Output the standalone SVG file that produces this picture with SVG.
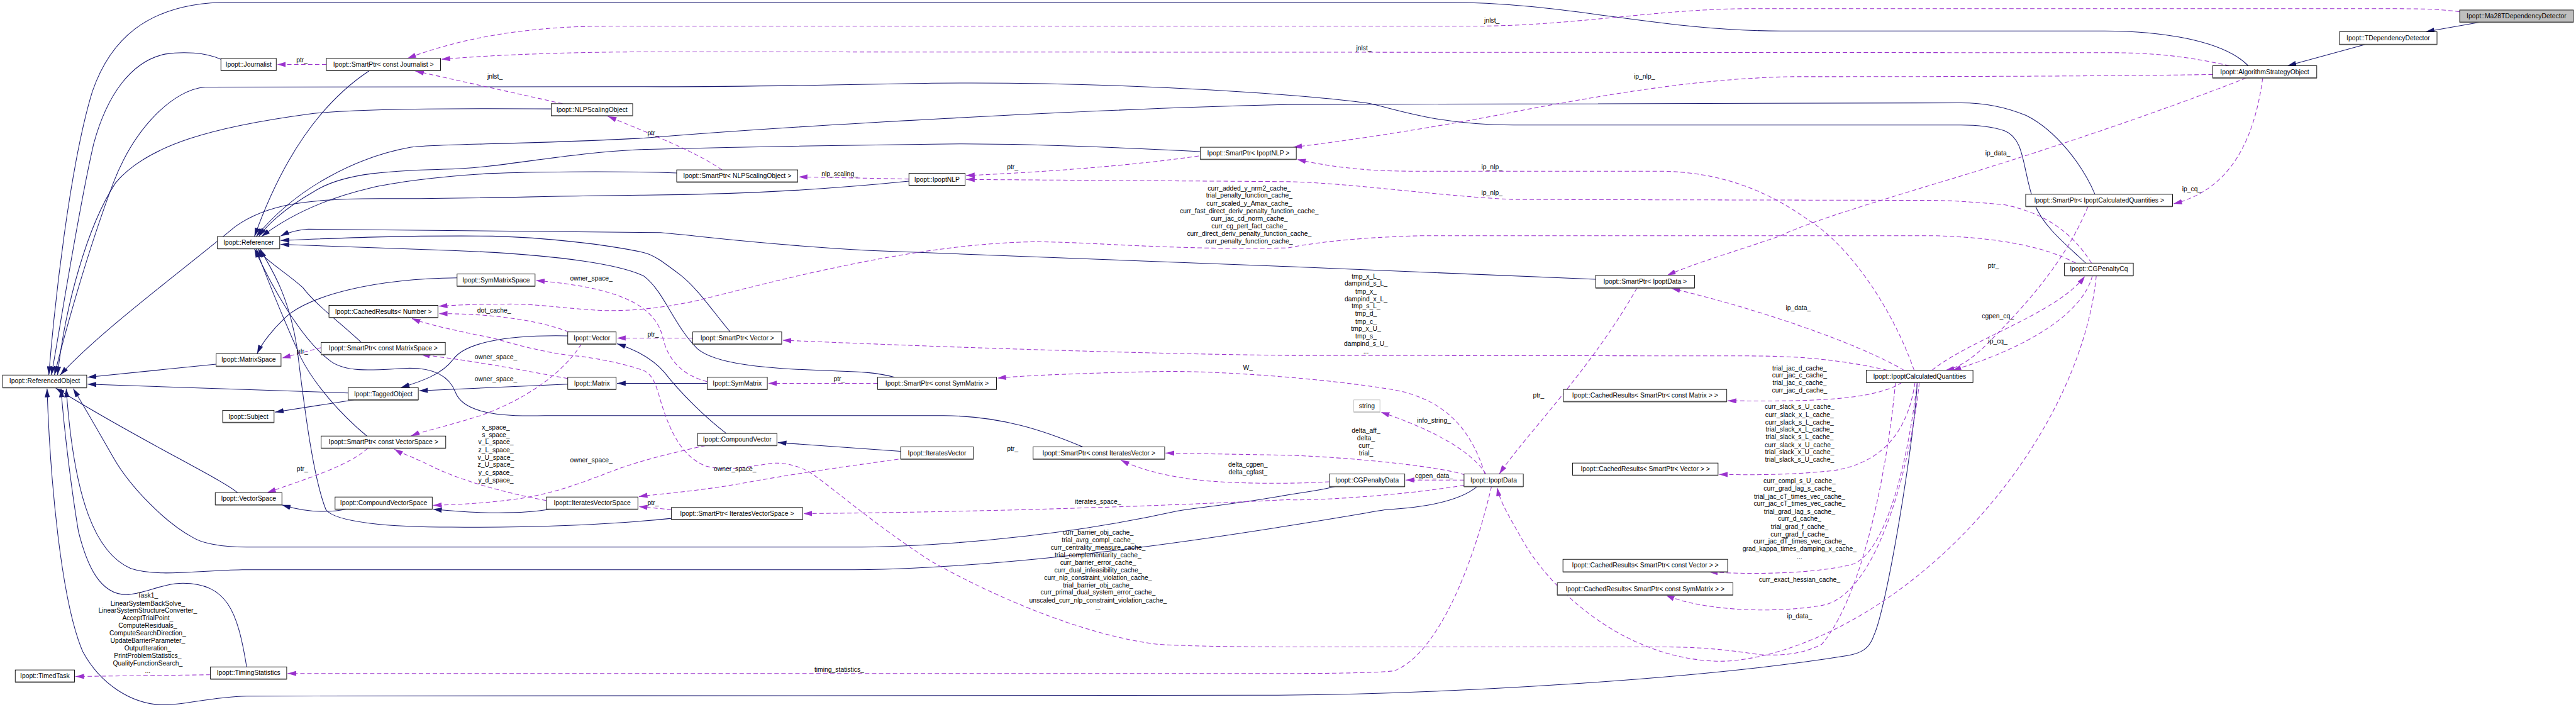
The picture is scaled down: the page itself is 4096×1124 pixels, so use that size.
<svg xmlns="http://www.w3.org/2000/svg" width="4096" height="1124" viewBox="0 0 4096 1124">
<style>
text{font-family:"Liberation Sans",Arial,sans-serif;font-size:15px;fill:#000}
.node rect{fill:#fff;stroke:#000;stroke-width:1.3}
.node line{stroke:#555;stroke-width:2.6}
.node text{text-anchor:middle}
.lbl{text-anchor:middle}
.inh{fill:none;stroke:#191970;stroke-width:1.5;marker-end:url(#ai)}
.use{fill:none;stroke:#9a32cd;stroke-width:1.5;stroke-dasharray:10,6;marker-end:url(#au)}
</style>
<defs>
<marker id="ai" markerUnits="userSpaceOnUse" markerWidth="20" markerHeight="12" viewBox="0 0 20 12" refX="20" refY="6" orient="auto"><path d="M0,0 L20,6 L0,12 z" fill="#191970"/></marker>
<marker id="au" markerUnits="userSpaceOnUse" markerWidth="20" markerHeight="12" viewBox="0 0 20 12" refX="20" refY="6" orient="auto"><path d="M0,0 L20,6 L0,12 z" fill="#9a32cd"/></marker>
</defs>
<rect x="0" y="0" width="4096" height="1124" fill="#fff"/>
<g transform="scale(0.69283,0.69254)">
<g id="edges">
<path class="inh" d="M5692,51 L5567,73"/>
<path class="inh" d="M5428,102 L5250,151"/>
<path class="inh" d="M5160,151 C5100,90 4950,71 4830,71 L4087,71 C3800,71 3600,5 3314,5 L528,5 C330,5 250,100 212,210 C160,380 125,700 112,861"/>
<path class="inh" d="M507,136 C470,120 420,118 380,124 C300,140 245,220 215,330 C180,480 140,740 118,861"/>
<path class="inh" d="M4787,604 C4740,560 4690,520 4670,470 C4640,390 4650,320 4600,300 C4560,287 4520,287 4500,287 L3474,287 C3300,287 3200,250 3145,238 C3050,222 2600,186 2138,191 C1900,195 1700,200 1478,199 L471,200 C400,205 310,290 260,420 C200,580 150,760 125,861"/>
<path class="inh" d="M1265,250 C1000,248 800,250 707,262 C500,290 340,330 265,420 C200,520 150,700 132,861"/>
<path class="inh" d="M2086,416 C1850,440 1650,447 1478,448 C1250,450 1100,456 900,456 C700,454 610,470 540,520 C420,620 230,760 138,861"/>
<path class="inh" d="M496,836 L201,866"/>
<path class="inh" d="M799,902 L201,882"/>
<path class="inh" d="M812,918 L631,946"/>
<path class="inh" d="M545,1131 C510,1100 300,1000 128,891"/>
<path class="inh" d="M4400,878 C4395,1000 4330,1400 4300,1460 C4290,1490 4270,1500 4240,1505 C3900,1560 3300,1596 2873,1596 L566,1598 C480,1600 420,1620 370,1618 C300,1615 230,1570 190,1496 C140,1380 115,1100 108,892"/>
<path class="inh" d="M566,1531 C545,1400 520,1340 420,1339 C370,1339 330,1365 290,1365 C230,1365 200,1300 180,1220 C160,1100 145,960 140,892"/>
<path class="inh" d="M3390,1117 C3350,1150 3270,1165 3180,1170 C3000,1200 2400,1308 1930,1308 L556,1308 C450,1310 360,1325 300,1305 C220,1270 170,1150 152,892"/>
<path class="inh" d="M3064,1117 C3020,1128 2990,1130 2956,1136 C2850,1155 2750,1165 2703,1173 C2400,1240 2100,1256 1949,1256 L566,1256 C500,1256 460,1245 443,1234 C380,1200 300,1120 260,1050 C220,980 185,920 168,892"/>
<path class="inh" d="M1049,638 C850,640 720,680 665,720 C625,755 600,790 590,812"/>
<path class="inh" d="M1303,771 C1150,768 1065,790 1040,825 C1010,865 950,880 920,890"/>
<path class="inh" d="M1303,882 L962,897"/>
<path class="inh" d="M1623,880 L1416,880"/>
<path class="inh" d="M1667,995 C1620,960 1560,900 1525,855 C1495,820 1450,800 1416,789"/>
<path class="inh" d="M2067,1036 L1785,1016"/>
<path class="inh" d="M795,1169 C740,1180 690,1172 647,1159"/>
<path class="inh" d="M1263,1169 C1200,1180 1100,1180 994,1169"/>
<path class="inh" d="M842,1001 C780,950 720,880 690,820 C645,720 605,620 588,571"/>
<path class="inh" d="M829,786 C780,740 725,700 695,660 C650,620 610,600 592,571"/>
<path class="inh" d="M2485,1026 C2400,990 2300,955 2166,954 L1250,954 C1120,958 1060,940 1045,900 C1030,860 990,845 940,845 C870,848 800,858 760,830 C690,780 620,650 584,571"/>
<path class="inh" d="M1541,1190 C1400,1205 1200,1212 1037,1210 C900,1210 770,1200 748,1170 C720,1100 700,950 682,800 C660,660 610,600 597,571"/>
<path class="inh" d="M1676,762 C1640,720 1600,660 1560,630 C1520,600 1500,585 1478,580 C1400,562 1250,545 1130,542 C900,540 750,548 644,552"/>
<path class="inh" d="M2053,866 C2000,852 1950,853 1900,851 C1750,846 1640,835 1600,800 C1545,745 1525,670 1478,634 C1430,610 1300,585 1037,575 L644,561"/>
<path class="inh" d="M3662,641 L2956,612 C2500,592 2100,580 1996,575 C1750,562 1600,541 1516,534 L707,526 C680,528 660,534 644,542"/>
<path class="inh" d="M4808,446 C4780,380 4720,300 4650,265 C4590,240 4540,236 4500,236 L2956,240 C2500,250 1800,290 1478,317 C1200,332 1000,330 943,338 C820,360 680,430 588,543"/>
<path class="inh" d="M2755,348 C2500,335 2300,328 2138,331 C1800,335 1600,340 1478,343 C1300,350 1150,385 1037,388 C900,392 790,395 720,440 C650,480 610,520 594,543"/>
<path class="inh" d="M1553,397 C1400,392 1200,395 1131,398 C1000,405 900,420 848,432 C730,460 650,505 600,543"/>
<path class="inh" d="M848,162 C760,220 660,330 584,543"/>

<path class="use" d="M5645,27 C5600,21 5560,20 5500,20 L4000,20 C3800,22 3600,60 3380,60 L1400,60 C1200,60 1050,90 935,134"/>
<path class="use" d="M5117,151 C5000,125 4920,121 4839,121 L1478,119 C1300,120 1150,125 1013,136"/>
<path class="use" d="M1291,238 L953,163"/>
<path class="use" d="M749,148 L636,148"/>
<path class="use" d="M1657,390 C1600,350 1500,310 1395,267"/>
<path class="use" d="M2086,411 L1833,406"/>
<path class="use" d="M2751,358 C2600,380 2400,395 2217,403"/>
<path class="use" d="M5078,171 C4900,174 4600,176 4115,176 C3900,180 3700,215 3500,252 C3300,292 3100,322 2968,338"/>
<path class="use" d="M4393,850 C4340,700 4240,560 4150,505 C4060,440 3950,393 3804,393 L3239,393 C3120,393 3040,380 2977,366"/>
<path class="use" d="M4800,604 C4760,540 4700,490 4600,470 C4500,461 4460,460 4434,460 L3474,458 C3300,450 3100,420 2956,417 L2217,412"/>
<path class="use" d="M4764,604 C4700,570 4600,545 4434,541 L3267,541 C3100,545 3000,560 2956,569 C2700,575 2500,555 2374,555 C2100,560 1800,640 1600,690 C1500,712 1420,715 1367,712 C1300,708 1230,698 1178,698 C1100,698 1050,700 1007,703"/>
<path class="use" d="M5155,179 C4950,260 4650,360 4434,424 C4300,465 4150,510 4087,541 C4000,572 3900,600 3826,632"/>
<path class="use" d="M4370,850 C4250,780 4000,700 3836,662"/>
<path class="use" d="M3757,661 C3650,850 3500,1000 3441,1088"/>
<path class="use" d="M4792,474 C4740,600 4650,700 4560,790 C4520,830 4490,845 4465,850"/>
<path class="use" d="M4434,850 C4520,780 4720,720 4785,634"/>
<path class="use" d="M4802,633 C4780,720 4650,800 4481,850"/>
<path class="use" d="M5193,179 C5170,350 5100,440 4988,468"/>
<path class="use" d="M4811,633 C4790,850 4650,1100 4450,1280 C4250,1460 4050,1520 3940,1518 C3720,1510 3560,1350 3500,1250 C3460,1180 3442,1150 3436,1119"/>
<path class="use" d="M737,798 L647,822"/>
<path class="use" d="M844,1029 C800,1070 700,1100 613,1131"/>
<path class="use" d="M1305,762 C1250,740 1150,720 1007,720"/>
<path class="use" d="M1623,876 C1560,860 1530,820 1520,770 C1500,700 1420,660 1230,644"/>
<path class="use" d="M1590,776 L1416,776"/>
<path class="use" d="M2014,880 L1763,880"/>
<path class="use" d="M4332,850 C4200,820 4100,817 3993,817 L2956,816 C2500,810 2000,790 1796,781"/>
<path class="use" d="M3408,1088 C3380,1000 3330,920 3200,895 C3050,870 2800,850 2656,853 C2500,856 2350,862 2289,868"/>
<path class="use" d="M3362,1090 C3300,1070 3100,1050 2956,1045 L2675,1040"/>
<path class="use" d="M3051,1106 C3000,1109 2900,1112 2798,1106 C2700,1100 2620,1080 2572,1056"/>
<path class="use" d="M3360,1102 L3226,1102"/>
<path class="use" d="M3410,1088 C3380,1040 3300,990 3169,946"/>
<path class="use" d="M3360,1114 C3200,1140 3000,1150 2956,1147 C2700,1160 2300,1175 1844,1179"/>
<path class="use" d="M3423,1117 C3380,1300 3300,1500 3200,1540 C3150,1546 3000,1546 2956,1546 L660,1546"/>
<path class="use" d="M483,1549 L173,1553"/>
<path class="use" d="M4365,878 C4300,920 4150,922 3965,920"/>
<path class="use" d="M4395,878 C4380,980 4330,1060 4210,1080 C4100,1092 4000,1090 3945,1089"/>
<path class="use" d="M4400,878 C4380,1050 4330,1270 4250,1296 C4150,1320 4000,1318 3922,1313"/>
<path class="use" d="M4405,878 C4380,1100 4300,1370 4181,1390 C4060,1410 3900,1400 3823,1366"/>
<path class="use" d="M2062,1054 C1950,1070 1855,1082 1700,1110 C1600,1128 1500,1135 1466,1140"/>
<path class="use" d="M1619,1023 C1540,1040 1460,1060 1404,1082 C1330,1110 1280,1130 1197,1144 C1120,1155 1060,1158 994,1160"/>
<path class="use" d="M1254,1149 C1150,1130 1050,1100 990,1070 C950,1050 920,1040 905,1031"/>
<path class="use" d="M1334,790 C1290,860 1200,920 1100,955 C1020,980 970,990 943,1001"/>
<path class="use" d="M1303,869 C1200,850 1100,830 966,814"/>
<path class="use" d="M1541,1170 L1466,1163"/>
<path class="use" d="M4350,878 C4340,1000 4290,1350 4181,1479 C4120,1510 4060,1503 4040,1503 C3950,1490 3900,1485 3804,1485 L2956,1485 C2800,1485 2700,1482 2656,1479 C2500,1460 2300,1380 2138,1289 C2000,1200 1900,1110 1855,1082 C1820,1065 1790,1060 1761,1065 C1700,1075 1660,1080 1620,1070 C1570,1050 1540,1000 1516,920 C1505,880 1497,860 1478,851 C1430,832 1340,818 1320,817 C1250,810 1180,790 1131,776 C1050,760 980,745 945,731"/>
</g>
<g id="labels">
<text class="lbl" x="3424" y="52">jnlst_</text>
<text class="lbl" x="3130" y="115">jnlst_</text>
<text class="lbl" x="1136" y="181">jnlst_</text>
<text class="lbl" x="693" y="143">ptr_</text>
<text class="lbl" x="1499" y="310">ptr_</text>
<text class="lbl" x="1927" y="404">nlp_scaling_</text>
<text class="lbl" x="2324" y="389">ptr_</text>
<text class="lbl" x="3774" y="181">ip_nlp_</text>
<text class="lbl" x="3424" y="388">ip_nlp_</text>
<text class="lbl" x="3424" y="447">ip_nlp_</text>
<text class="lbl" x="4585" y="357">ip_data_</text>
<text class="lbl" x="5030" y="439">ip_cq_</text>
<text class="lbl" x="4575" y="615">ptr_</text>
<text class="lbl" x="4585" y="730">cgpen_cq_</text>
<text class="lbl" x="4585" y="789">ip_cq_</text>
<text class="lbl" x="4127" y="712">ip_data_</text>
<text class="lbl" x="3531" y="912">ptr_</text>
<text class="lbl" x="3291" y="971">info_string_</text>
<text class="lbl" x="3291" y="1097">cgpen_data_</text>
<text class="lbl" x="4130" y="1336">curr_exact_hessian_cache_</text>
<text class="lbl" x="4130" y="1420">ip_data_</text>
<text class="lbl" x="2520" y="1156">iterates_space_</text>
<text class="lbl" x="1926" y="1542">timing_statistics_</text>
<text class="lbl" x="2864" y="849">W_</text>
<text class="lbl" x="1499" y="772">ptr_</text>
<text class="lbl" x="1926" y="875">ptr_</text>
<text class="lbl" x="2324" y="1035">ptr_</text>
<text class="lbl" x="1687" y="1081">owner_space_</text>
<text class="lbl" x="1357" y="644">owner_space_</text>
<text class="lbl" x="1134" y="718">dot_cache_</text>
<text class="lbl" x="694" y="812">ptr_</text>
<text class="lbl" x="1138" y="824">owner_space_</text>
<text class="lbl" x="1138" y="875">owner_space_</text>
<text class="lbl" x="1357" y="1062">owner_space_</text>
<text class="lbl" x="694" y="1082">ptr_</text>
<text class="lbl" x="1499" y="1160">ptr_</text>
<text class="lbl" x="2864" y="1071">delta_cgpen_</text>
<text class="lbl" x="2864" y="1089">delta_cgfast_</text>
<text class="lbl" x="2867"><tspan x="2867" y="437">curr_added_y_nrm2_cache_</tspan><tspan x="2867" y="454">trial_penalty_function_cache_</tspan><tspan x="2867" y="472">curr_scaled_y_Amax_cache_</tspan><tspan x="2867" y="489">curr_fast_direct_deriv_penalty_function_cache_</tspan><tspan x="2867" y="507">curr_jac_cd_norm_cache_</tspan><tspan x="2867" y="524">curr_cg_pert_fact_cache_</tspan><tspan x="2867" y="541">curr_direct_deriv_penalty_function_cache_</tspan><tspan x="2867" y="559">curr_penalty_function_cache_</tspan></text>
<text class="lbl" x="3135"><tspan x="3135" y="639">tmp_x_L_</tspan><tspan x="3135" y="656">dampind_s_L_</tspan><tspan x="3135" y="674">tmp_x_</tspan><tspan x="3135" y="691">dampind_x_L_</tspan><tspan x="3135" y="708">tmp_s_L_</tspan><tspan x="3135" y="725">tmp_d_</tspan><tspan x="3135" y="743">tmp_c_</tspan><tspan x="3135" y="760">tmp_x_U_</tspan><tspan x="3135" y="777">tmp_s_</tspan><tspan x="3135" y="794">dampind_s_U_</tspan><tspan x="3135" y="811">...</tspan></text>
<text class="lbl" x="4130"><tspan x="4130" y="850">trial_jac_d_cache_</tspan><tspan x="4130" y="867">curr_jac_c_cache_</tspan><tspan x="4130" y="884">trial_jac_c_cache_</tspan><tspan x="4130" y="901">curr_jac_d_cache_</tspan></text>
<text class="lbl" x="4130"><tspan x="4130" y="939">curr_slack_s_U_cache_</tspan><tspan x="4130" y="957">curr_slack_x_L_cache_</tspan><tspan x="4130" y="974">curr_slack_s_L_cache_</tspan><tspan x="4130" y="991">trial_slack_x_L_cache_</tspan><tspan x="4130" y="1008">trial_slack_s_L_cache_</tspan><tspan x="4130" y="1026">curr_slack_x_U_cache_</tspan><tspan x="4130" y="1043">trial_slack_x_U_cache_</tspan><tspan x="4130" y="1060">trial_slack_s_U_cache_</tspan></text>
<text class="lbl" x="3135"><tspan x="3135" y="993">delta_aff_</tspan><tspan x="3135" y="1011">delta_</tspan><tspan x="3135" y="1028">curr_</tspan><tspan x="3135" y="1045">trial_</tspan></text>
<text class="lbl" x="1138"><tspan x="1138" y="986">x_space_</tspan><tspan x="1138" y="1003">s_space_</tspan><tspan x="1138" y="1020">v_L_space_</tspan><tspan x="1138" y="1038">z_L_space_</tspan><tspan x="1138" y="1055">v_U_space_</tspan><tspan x="1138" y="1072">z_U_space_</tspan><tspan x="1138" y="1090">y_c_space_</tspan><tspan x="1138" y="1107">y_d_space_</tspan></text>
<text class="lbl" x="2520"><tspan x="2520" y="1227">curr_barrier_obj_cache_</tspan><tspan x="2520" y="1245">trial_avrg_compl_cache_</tspan><tspan x="2520" y="1262">curr_centrality_measure_cache_</tspan><tspan x="2520" y="1279">trial_complementarity_cache_</tspan><tspan x="2520" y="1296">curr_barrier_error_cache_</tspan><tspan x="2520" y="1314">curr_dual_infeasibility_cache_</tspan><tspan x="2520" y="1331">curr_nlp_constraint_violation_cache_</tspan><tspan x="2520" y="1348">trial_barrier_obj_cache_</tspan><tspan x="2520" y="1365">curr_primal_dual_system_error_cache_</tspan><tspan x="2520" y="1383">unscaled_curr_nlp_constraint_violation_cache_</tspan><tspan x="2520" y="1400">...</tspan></text>
<text class="lbl" x="4130"><tspan x="4130" y="1109">curr_compl_s_U_cache_</tspan><tspan x="4130" y="1127">curr_grad_lag_s_cache_</tspan><tspan x="4130" y="1145">trial_jac_cT_times_vec_cache_</tspan><tspan x="4130" y="1161">curr_jac_cT_times_vec_cache_</tspan><tspan x="4130" y="1179">trial_grad_lag_s_cache_</tspan><tspan x="4130" y="1196">curr_d_cache_</tspan><tspan x="4130" y="1214">trial_grad_f_cache_</tspan><tspan x="4130" y="1231">curr_grad_f_cache_</tspan><tspan x="4130" y="1248">curr_jac_dT_times_vec_cache_</tspan><tspan x="4130" y="1265">grad_kappa_times_damping_x_cache_</tspan><tspan x="4130" y="1284">...</tspan></text>
<text class="lbl" x="339"><tspan x="339" y="1372">Task1_</tspan><tspan x="339" y="1390">LinearSystemBackSolve_</tspan><tspan x="339" y="1407">LinearSystemStructureConverter_</tspan><tspan x="339" y="1424">AcceptTrialPoint_</tspan><tspan x="339" y="1441">ComputeResiduals_</tspan><tspan x="339" y="1459">ComputeSearchDirection_</tspan><tspan x="339" y="1476">UpdateBarrierParameter_</tspan><tspan x="339" y="1493">OutputIteration_</tspan><tspan x="339" y="1510">PrintProblemStatistics_</tspan><tspan x="339" y="1528">QualityFunctionSearch_</tspan><tspan x="339" y="1545">...</tspan></text>
</g>
<g id="n1" class="node"><rect x="5645" y="23" width="261" height="28" style="fill:#bfbfbf"/><line x1="5645" y1="51" x2="5906" y2="51"/><text x="5775.5" y="42">Ipopt::Ma28TDependencyDetector</text></g>
<g id="n2" class="node"><rect x="5369" y="73" width="224" height="29"/><line x1="5369" y1="102" x2="5593" y2="102"/><text x="5481" y="92">Ipopt::TDependencyDetector</text></g>
<g id="n3" class="node"><rect x="5078" y="151" width="239" height="28"/><line x1="5078" y1="179" x2="5317" y2="179"/><text x="5197.5" y="170">Ipopt::AlgorithmStrategyObject</text></g>
<g id="n4" class="node"><rect x="6" y="861" width="193" height="29"/><line x1="6" y1="890" x2="199" y2="890"/><text x="102.5" y="880">Ipopt::ReferencedObject</text></g>
<g id="n5" class="node"><rect x="507" y="134" width="127" height="28"/><line x1="507" y1="162" x2="634" y2="162"/><text x="570.5" y="153">Ipopt::Journalist</text></g>
<g id="n6" class="node"><rect x="749" y="134" width="262" height="28"/><line x1="749" y1="162" x2="1011" y2="162"/><text x="880" y="153">Ipopt::SmartPtr&lt; const Journalist &gt;</text></g>
<g id="n7" class="node"><rect x="1265" y="238" width="187" height="28"/><line x1="1265" y1="266" x2="1452" y2="266"/><text x="1358.5" y="257">Ipopt::NLPScalingObject</text></g>
<g id="n8" class="node"><rect x="1553" y="390" width="278" height="28"/><line x1="1553" y1="418" x2="1831" y2="418"/><text x="1692" y="409">Ipopt::SmartPtr&lt; NLPScalingObject &gt;</text></g>
<g id="n9" class="node"><rect x="2086" y="398" width="129" height="28"/><line x1="2086" y1="426" x2="2215" y2="426"/><text x="2150.5" y="417">Ipopt::IpoptNLP</text></g>
<g id="n10" class="node"><rect x="2755" y="338" width="220" height="28"/><line x1="2755" y1="366" x2="2975" y2="366"/><text x="2865" y="357">Ipopt::SmartPtr&lt; IpoptNLP &gt;</text></g>
<g id="n11" class="node"><rect x="4649" y="446" width="337" height="28"/><line x1="4649" y1="474" x2="4986" y2="474"/><text x="4817.5" y="465">Ipopt::SmartPtr&lt; IpoptCalculatedQuantities &gt;</text></g>
<g id="n12" class="node"><rect x="499" y="543" width="143" height="28"/><line x1="499" y1="571" x2="642" y2="571"/><text x="570.5" y="562">Ipopt::Referencer</text></g>
<g id="n13" class="node"><rect x="1049" y="629" width="179" height="28"/><line x1="1049" y1="657" x2="1228" y2="657"/><text x="1138.5" y="648">Ipopt::SymMatrixSpace</text></g>
<g id="n14" class="node"><rect x="755" y="701" width="250" height="28"/><line x1="755" y1="729" x2="1005" y2="729"/><text x="880" y="720">Ipopt::CachedResults&lt; Number &gt;</text></g>
<g id="n15" class="node"><rect x="1303" y="762" width="111" height="28"/><line x1="1303" y1="790" x2="1414" y2="790"/><text x="1358.5" y="781">Ipopt::Vector</text></g>
<g id="n16" class="node"><rect x="737" y="786" width="285" height="28"/><line x1="737" y1="814" x2="1022" y2="814"/><text x="879.5" y="805">Ipopt::SmartPtr&lt; const MatrixSpace &gt;</text></g>
<g id="n17" class="node"><rect x="496" y="812" width="149" height="29"/><line x1="496" y1="841" x2="645" y2="841"/><text x="570.5" y="831">Ipopt::MatrixSpace</text></g>
<g id="n18" class="node"><rect x="1303" y="866" width="111" height="28"/><line x1="1303" y1="894" x2="1414" y2="894"/><text x="1358.5" y="885">Ipopt::Matrix</text></g>
<g id="n19" class="node"><rect x="799" y="890" width="161" height="28"/><line x1="799" y1="918" x2="960" y2="918"/><text x="879.5" y="909">Ipopt::TaggedObject</text></g>
<g id="n20" class="node"><rect x="511" y="942" width="118" height="28"/><line x1="511" y1="970" x2="629" y2="970"/><text x="570" y="961">Ipopt::Subject</text></g>
<g id="n21" class="node"><rect x="737" y="1001" width="286" height="28"/><line x1="737" y1="1029" x2="1023" y2="1029"/><text x="880" y="1020">Ipopt::SmartPtr&lt; const VectorSpace &gt;</text></g>
<g id="n22" class="node"><rect x="494" y="1131" width="153" height="28"/><line x1="494" y1="1159" x2="647" y2="1159"/><text x="570.5" y="1150">Ipopt::VectorSpace</text></g>
<g id="n23" class="node"><rect x="769" y="1141" width="223" height="28"/><line x1="769" y1="1169" x2="992" y2="1169"/><text x="880.5" y="1160">Ipopt::CompoundVectorSpace</text></g>
<g id="n24" class="node"><rect x="1254" y="1141" width="210" height="28"/><line x1="1254" y1="1169" x2="1464" y2="1169"/><text x="1359" y="1160">Ipopt::IteratesVectorSpace</text></g>
<g id="n25" class="node"><rect x="35" y="1538" width="136" height="28"/><line x1="35" y1="1566" x2="171" y2="1566"/><text x="103" y="1557">Ipopt::TimedTask</text></g>
<g id="n26" class="node"><rect x="483" y="1531" width="175" height="28"/><line x1="483" y1="1559" x2="658" y2="1559"/><text x="570.5" y="1550">Ipopt::TimingStatistics</text></g>
<g id="n27" class="node"><rect x="1590" y="762" width="204" height="28"/><line x1="1590" y1="790" x2="1794" y2="790"/><text x="1692" y="781">Ipopt::SmartPtr&lt; Vector &gt;</text></g>
<g id="n28" class="node"><rect x="1623" y="866" width="138" height="28"/><line x1="1623" y1="894" x2="1761" y2="894"/><text x="1692" y="885">Ipopt::SymMatrix</text></g>
<g id="n29" class="node"><rect x="2014" y="866" width="273" height="28"/><line x1="2014" y1="894" x2="2287" y2="894"/><text x="2150.5" y="885">Ipopt::SmartPtr&lt; const SymMatrix &gt;</text></g>
<g id="n30" class="node"><rect x="1601" y="995" width="182" height="28"/><line x1="1601" y1="1023" x2="1783" y2="1023"/><text x="1692" y="1014">Ipopt::CompoundVector</text></g>
<g id="n31" class="node"><rect x="2067" y="1026" width="167" height="28"/><line x1="2067" y1="1054" x2="2234" y2="1054"/><text x="2150.5" y="1045">Ipopt::IteratesVector</text></g>
<g id="n32" class="node"><rect x="2371" y="1026" width="302" height="28"/><line x1="2371" y1="1054" x2="2673" y2="1054"/><text x="2522" y="1045">Ipopt::SmartPtr&lt; const IteratesVector &gt;</text></g>
<g id="n33" class="node"><rect x="1541" y="1165" width="301" height="28"/><line x1="1541" y1="1193" x2="1842" y2="1193"/><text x="1691.5" y="1184">Ipopt::SmartPtr&lt; IteratesVectorSpace &gt;</text></g>
<g id="n34" class="node"><rect x="3662" y="632" width="227" height="29"/><line x1="3662" y1="661" x2="3889" y2="661"/><text x="3775.5" y="651">Ipopt::SmartPtr&lt; IpoptData &gt;</text></g>
<g id="n35" class="node"><rect x="3588" y="894" width="375" height="28"/><line x1="3588" y1="922" x2="3963" y2="922"/><text x="3775.5" y="913">Ipopt::CachedResults&lt; SmartPtr&lt; const Matrix &gt; &gt;</text></g>
<g id="n36" class="node"><rect x="3107" y="918" width="60" height="28" style="stroke:#bfbfbf"/><line x1="3107" y1="946" x2="3167" y2="946" style="stroke:#bfbfbf"/><text x="3137" y="937">string</text></g>
<g id="n37" class="node"><rect x="3609" y="1063" width="334" height="28"/><line x1="3609" y1="1091" x2="3943" y2="1091"/><text x="3776" y="1082">Ipopt::CachedResults&lt; SmartPtr&lt; Vector &gt; &gt;</text></g>
<g id="n38" class="node"><rect x="4283" y="850" width="245" height="28"/><line x1="4283" y1="878" x2="4528" y2="878"/><text x="4405.5" y="869">Ipopt::IpoptCalculatedQuantities</text></g>
<g id="n39" class="node"><rect x="4738" y="604" width="158" height="29"/><line x1="4738" y1="633" x2="4896" y2="633"/><text x="4817" y="623">Ipopt::CGPenaltyCq</text></g>
<g id="n40" class="node"><rect x="3051" y="1088" width="173" height="29"/><line x1="3051" y1="1117" x2="3224" y2="1117"/><text x="3137.5" y="1107">Ipopt::CGPenaltyData</text></g>
<g id="n41" class="node"><rect x="3360" y="1088" width="136" height="29"/><line x1="3360" y1="1117" x2="3496" y2="1117"/><text x="3428" y="1107">Ipopt::IpoptData</text></g>
<g id="n42" class="node"><rect x="3587" y="1284" width="378" height="29"/><line x1="3587" y1="1313" x2="3965" y2="1313"/><text x="3776" y="1303">Ipopt::CachedResults&lt; SmartPtr&lt; const Vector &gt; &gt;</text></g>
<g id="n43" class="node"><rect x="3574" y="1338" width="403" height="28"/><line x1="3574" y1="1366" x2="3977" y2="1366"/><text x="3775.5" y="1357">Ipopt::CachedResults&lt; SmartPtr&lt; const SymMatrix &gt; &gt;</text></g>
</g>
</svg>
